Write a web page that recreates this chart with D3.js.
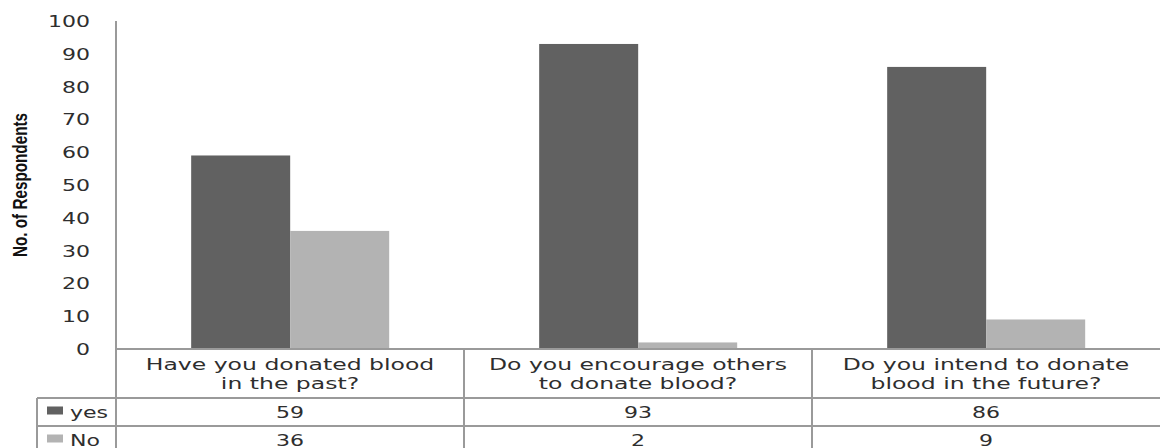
<!DOCTYPE html>
<html><head><meta charset="utf-8">
<script src="https://cdn.jsdelivr.net/npm/d3@7"></script>
<style>body{margin:0;background:#fff}svg{display:block}</style>
</head><body>
<svg id="c" width="1160" height="448"></svg>
<script>
const categories = [
  ["Have you donated blood", "in the past?"],
  ["Do you encourage others", "to donate blood?"],
  ["Do you intend to donate", "blood in the future?"]
];
const seriesNames = ["yes", "No"];
const yesValues = [59, 93, 86];
const noValues = [36, 2, 9];
const yTicks = [0, 10, 20, 30, 40, 50, 60, 70, 80, 90, 100];
const yTitle = "No. of Respondents";

(function() {
const colors = {yes: "#616161", No: "#b3b3b3"};
const seriesValues = {yes: yesValues, No: noValues};
const SX = 1.47;
const font = "'DejaVu Sans', Verdana, sans-serif";
const gridColor = "#9a9a9a";
const textColor = "#2e2e2e";

const svg = d3.select("#c");
const pLeft = 116, pRight = 1160, pTop = 21, pBottom = 349;
const catIdx = categories.map((d, i) => i);
const x0 = d3.scaleBand().domain(catIdx).range([pLeft, pRight]).padding(0);
const bw = x0.bandwidth();
const x1 = d3.scaleBand().domain(seriesNames).range([bw * 0.216, bw * 0.785]).padding(0);
const y = d3.scaleLinear().domain([0, 100]).range([pBottom, pTop]);

function stext(g, x, yy, txt, size, anchor) {
  return g.append("text")
    .attr("transform", `translate(${x},${yy}) scale(${SX},1)`)
    .attr("text-anchor", anchor)
    .attr("font-family", font)
    .attr("font-size", size)
    .attr("fill", textColor)
    .text(txt);
}

// bars
const groups = svg.append("g").selectAll("g").data(catIdx).join("g")
  .attr("transform", i => `translate(${x0(i)},0)`);
groups.selectAll("rect").data(i => seriesNames.map(s => ({s, v: seriesValues[s][i]}))).join("rect")
  .attr("x", d => x1(d.s))
  .attr("width", x1.bandwidth())
  .attr("y", d => y(d.v))
  .attr("height", d => y(0) - y(d.v))
  .attr("fill", d => colors[d.s]);

// y axis labels
const yAxis = d3.axisLeft(y).tickValues(yTicks).tickSize(0).tickPadding(0);
const ag = svg.append("g").attr("transform", `translate(${pLeft},0)`).call(yAxis);
ag.select(".domain").remove();
ag.selectAll(".tick text").remove();
ag.selectAll(".tick").each(function(d) {
  stext(d3.select(this), -26, 5.5, d, 15, "end");
});

// axis line and table grid
const lines = svg.append("g").attr("stroke", gridColor).attr("stroke-width", 1.3).attr("shape-rendering", "crispEdges");
lines.append("line").attr("x1", pLeft).attr("x2", pLeft).attr("y1", pTop).attr("y2", 448);
lines.append("line").attr("x1", pLeft).attr("x2", pRight).attr("y1", y(0)).attr("y2", y(0));
const rowTop = 398, rowH = 28;
[rowTop, rowTop + rowH].forEach(yy => lines.append("line").attr("x1", 37).attr("x2", pRight).attr("y1", yy).attr("y2", yy));
lines.append("line").attr("x1", 37).attr("x2", 37).attr("y1", rowTop).attr("y2", 448);
catIdx.slice(1).forEach(i => lines.append("line").attr("x1", x0(i)).attr("x2", x0(i)).attr("y1", y(0)).attr("y2", 448));

// category labels
catIdx.forEach(i => {
  const cx = x0(i) + bw / 2;
  stext(svg, cx, 370, categories[i][0], 16, "middle");
  stext(svg, cx, 388.5, categories[i][1], 16, "middle");
});

// table rows
seriesNames.forEach((s, r) => {
  const cy = rowTop + rowH * r + rowH / 2 + 5.5;
  svg.append("rect").attr("x", 47).attr("y", cy - 11).attr("width", 16).attr("height", 8).attr("fill", colors[s]);
  stext(svg, 70, cy, s, 15, "start");
  catIdx.forEach(i => stext(svg, x0(i) + bw / 2, cy, seriesValues[s][i], 15, "middle"));
});

// y title
svg.append("text")
  .attr("transform", "translate(27,185) rotate(-90)")
  .attr("text-anchor", "middle")
  .attr("font-family", "'Liberation Sans Narrow', 'Arial Narrow', 'Liberation Sans', sans-serif")
  .attr("font-weight", "bold")
  .attr("font-size", 20)
  .attr("textLength", 144)
  .attr("lengthAdjust", "spacingAndGlyphs")
  .attr("fill", "#111")
  .text(yTitle);
})();
</script>
</body></html>
